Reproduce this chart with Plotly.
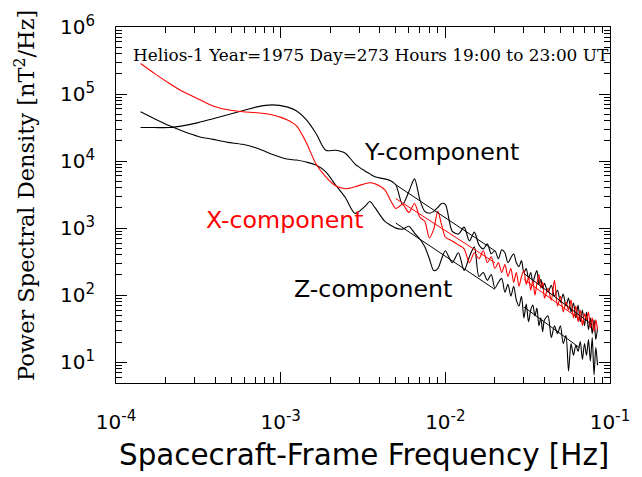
import plotly.graph_objects as go

# ---------------- data ----------------
# smoothed low-frequency part of the spectra
freq_low = [1.41e-4, 1.71e-4, 2.10e-4, 2.58e-4, 3.16e-4, 3.88e-4, 4.77e-4, 5.86e-4,
            7.20e-4, 8.84e-4, 1.09e-3, 1.245e-3, 1.43e-3, 1.64e-3, 1.88e-3, 2.15e-3,
            2.47e-3, 2.83e-3, 3.25e-3, 3.48e-3, 3.73e-3, 4.28e-3, 4.65e-3]
# raw high-frequency part of the spectra
freq_high = [0.0050, 0.0055, 0.0060, 0.0065, 0.0070, 0.0075, 0.0080, 0.0085, 0.0090, 0.0095, 0.0100,
             0.011, 0.012, 0.013, 0.014, 0.015, 0.016, 0.017, 0.018, 0.019, 0.020,
             0.021, 0.022, 0.023, 0.024, 0.025, 0.026, 0.027, 0.028, 0.029, 0.030,
             0.031, 0.032, 0.033, 0.034, 0.035, 0.036, 0.037, 0.038, 0.039, 0.040,
             0.042, 0.044, 0.046, 0.048, 0.050, 0.052, 0.054, 0.056, 0.058, 0.060,
             0.062, 0.064, 0.066, 0.068, 0.070, 0.072, 0.074, 0.076, 0.078, 0.080,
             0.082, 0.084]

# log10 of power spectral density [nT^2/Hz]
log_psd_x_low = [5.456, 5.309, 5.162, 5.029, 4.926, 4.823, 4.765, 4.735, 4.721, 4.691, 4.618, 4.529,
                 4.279, 3.956, 3.765, 3.632, 3.588, 3.618, 3.662, 3.676, 3.662, 3.574, 3.412]
log_psd_x_high = [3.294, 3.353, 3.235, 3.368, 3.162, 3.103, 2.853, 2.985, 3.250, 3.044, 2.868,
                  2.809, 2.750, 2.691, 2.485, 2.632, 2.544, 2.662, 2.485, 2.574, 2.397,
                  2.485, 2.338, 2.456, 2.279, 2.397, 2.191, 2.338, 2.132, 2.279, 2.368,
                  2.162, 2.265, 2.074, 2.221, 2.000, 2.176, 2.309, 2.103, 2.191, 1.956,
                  2.103, 1.926, 2.221, 1.838, 1.985, 1.750, 1.897, 1.779, 1.926, 1.662,
                  1.838, 1.603, 1.779, 1.544, 1.721, 1.632, 1.750, 1.515, 1.662, 1.456,
                  1.632, 1.485]

log_psd_y_low = [4.500, 4.500, 4.500, 4.529, 4.574, 4.632, 4.691, 4.750, 4.809, 4.838, 4.809, 4.750,
                 4.618, 4.412, 4.162, 4.162, 4.118, 3.956, 3.853, 3.809, 3.765, 3.735, 3.706]
log_psd_y_high = [3.647, 3.353, 3.544, 3.735, 3.426, 3.250, 3.221, 3.250, 3.309, 3.368, 3.353,
                  2.956, 2.912, 3.015, 2.809, 2.941, 2.750, 2.691, 2.765, 2.618, 2.662,
                  2.544, 2.676, 2.632, 2.485, 2.559, 2.618, 2.485, 2.426, 2.515, 2.338,
                  2.397, 2.250, 2.338, 2.191, 2.294, 2.368, 2.162, 2.235, 2.103, 2.176,
                  2.044, 2.147, 1.985, 2.074, 1.897, 2.015, 1.838, 1.956, 1.750, 1.882,
                  1.662, 1.853, 1.603, 1.779, 1.544, 1.750, 1.485, 1.662, 1.426, 1.632,
                  1.338, 1.515]

log_psd_z_low = [4.735, 4.632, 4.529, 4.441, 4.368, 4.324, 4.279, 4.250, 4.191, 4.103, 4.030, 4.015,
                 3.985, 3.941, 3.838, 3.647, 3.456, 3.221, 3.324, 3.397, 3.309, 3.103, 3.044]
log_psd_z_high = [3.000, 2.985, 3.029, 2.926, 2.838, 2.721, 2.544, 2.368, 2.397, 2.544, 2.662,
                  2.485, 2.632, 2.368, 2.574, 2.721, 2.279, 2.338, 2.221, 2.309, 2.103,
                  2.191, 2.250, 2.044, 2.162, 1.985, 2.132, 1.926, 1.838, 1.985, 1.662,
                  1.868, 1.603, 1.779, 1.853, 1.691, 1.809, 1.544, 1.662, 1.456, 1.632,
                  1.691, 1.368, 1.544, 1.426, 1.544, 1.279, 1.397, 0.868, 1.279, 1.103,
                  1.250, 1.162, 1.309, 1.044, 1.279, 1.103, 1.338, 1.015, 1.368, 0.809,
                  1.221, 0.956]

# power-law fits (two frequency ranges each)
fit_x_f1, fit_x_p1 = [0.005, 0.02], [2760, 305]
fit_x_f2, fit_x_p2 = [0.03, 0.07], [172, 39]
fit_y_f1, fit_y_p1 = [0.005, 0.02], [4440, 459]
fit_y_f2, fit_y_p2 = [0.03, 0.078], [211, 36]
fit_z_f1, fit_z_p1 = [0.005, 0.02], [1190, 122]
fit_z_f2, fit_z_p2 = [0.03, 0.065], [66.7, 16.6]

EXP = '<sup><span style="font-size:15px">{}</span></sup>'
x_major = [1e-4, 1e-3, 1e-2, 1e-1]
x_major_text = ["10" + EXP.format(e) for e in ["-4", "-3", "-2", "-1"]]
y_major = [1e1, 1e2, 1e3, 1e4, 1e5, 1e6]
y_major_text = ["10" + EXP.format(e) for e in ["1", "2", "3", "4", "5", "6"]]

title_text = "Helios-1 Year=1975 Day=273 Hours 19:00 to 23:00 UT"

# ---------------- figure ----------------
freq = freq_low + freq_high
psd_x = [10 ** v for v in log_psd_x_low + log_psd_x_high]
psd_y = [10 ** v for v in log_psd_y_low + log_psd_y_high]
psd_z = [10 ** v for v in log_psd_z_low + log_psd_z_high]

fig = go.Figure()
line_kw = dict(width=1.1, shape="spline", smoothing=0.8)
fig.add_trace(go.Scatter(x=freq, y=psd_y, mode="lines", name="Y",
                         line=dict(color="black", **line_kw)))
fig.add_trace(go.Scatter(x=freq, y=psd_z, mode="lines", name="Z",
                         line=dict(color="black", **line_kw)))
fig.add_trace(go.Scatter(x=freq, y=psd_x, mode="lines", name="X",
                         line=dict(color="red", **line_kw)))

for f, p, c in [(fit_y_f1, fit_y_p1, "black"), (fit_y_f2, fit_y_p2, "black"),
                (fit_x_f1, fit_x_p1, "red"), (fit_x_f2, fit_x_p2, "red"),
                (fit_z_f1, fit_z_p1, "black"), (fit_z_f2, fit_z_p2, "black")]:
    fig.add_trace(go.Scatter(x=f, y=p, mode="lines", line=dict(color=c, width=1),
                             showlegend=False))

x_minor = [k * 10 ** e for e in (-4, -3, -2) for k in range(2, 10)]
y_minor = [k * 10 ** e for e in range(0, 6) for k in range(2, 10) if k * 10 ** e >= 5]

tickfont = dict(family="DejaVu Sans", size=20, color="black")
axis_common = dict(type="log", showgrid=False, zeroline=False, showline=True,
                   linecolor="black", linewidth=1, mirror="ticks",
                   ticks="inside", ticklen=11, tickwidth=1, tickcolor="black",
                   tickmode="array", tickfont=tickfont)

fig.update_xaxes(range=[-4, -1], tickvals=x_major, ticktext=x_major_text,
                 ticklabelstandoff=21,
                 minor=dict(tickmode="array", tickvals=x_minor, ticks="inside",
                            ticklen=6, tickcolor="black", showgrid=False),
                 **axis_common)
fig.update_yaxes(range=[0.69, 6], tickvals=y_major, ticktext=y_major_text,
                 ticklabelstandoff=16,
                 minor=dict(tickmode="array", tickvals=y_minor, ticks="inside",
                            ticklen=6, tickcolor="black", showgrid=False),
                 **axis_common)

ann_common = dict(xref="paper", yref="paper", showarrow=False,
                  xanchor="center", yanchor="middle")
annotations = [
    dict(text=title_text, x=0.516, y=0.922,
         font=dict(family="DejaVu Serif", size=16.9, color="black"), **ann_common),
    dict(text="Y-component", x=0.659, y=0.648,
         font=dict(family="DejaVu Sans", size=23.7, color="black"), **ann_common),
    dict(text="X-component", x=0.342, y=0.458,
         font=dict(family="DejaVu Sans", size=23.7, color="red"), **ann_common),
    dict(text="Z-component", x=0.520, y=0.264,
         font=dict(family="DejaVu Sans", size=23.7, color="black"), **ann_common),
    dict(text="Spacecraft-Frame Frequency [Hz]", x=0.502, y=-0.203,
         font=dict(family="DejaVu Sans", size=29.4, color="black"), **ann_common),
    dict(text="Power Spectral Density [nT<sup>2</sup>/Hz]", x=-0.1865, y=0.528,
         textangle=-90,
         font=dict(family="DejaVu Serif", size=22.5, color="black"), **ann_common),
]

fig.update_layout(width=642, height=477, margin=dict(l=116, r=22, t=23, b=94),
                  paper_bgcolor="white", plot_bgcolor="white", showlegend=False,
                  annotations=annotations)

fig.write_html("out.html")
